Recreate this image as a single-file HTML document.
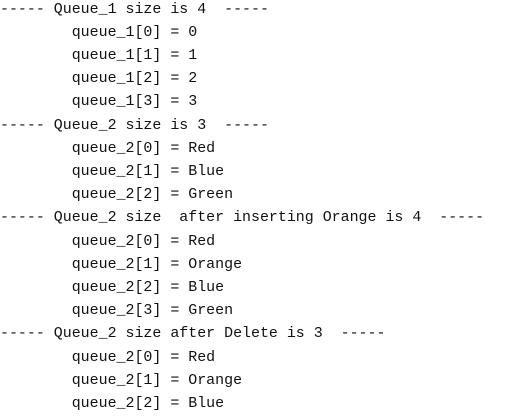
<!DOCTYPE html>
<html><head><style>
html,body{margin:0;padding:0;background:#fff;width:517px;height:417px;overflow:hidden}
pre{margin:0;position:absolute;left:0;top:-1.5px;font-family:"Liberation Mono",monospace;font-size:14.95px;line-height:23.2px;color:#111}
</style></head><body><pre>----- Queue_1 size is 4  -----
        queue_1[0] = 0
        queue_1[1] = 1
        queue_1[2] = 2
        queue_1[3] = 3
----- Queue_2 size is 3  -----
        queue_2[0] = Red
        queue_2[1] = Blue
        queue_2[2] = Green
----- Queue_2 size  after inserting Orange is 4  -----
        queue_2[0] = Red
        queue_2[1] = Orange
        queue_2[2] = Blue
        queue_2[3] = Green
----- Queue_2 size after Delete is 3  -----
        queue_2[0] = Red
        queue_2[1] = Orange
        queue_2[2] = Blue</pre></body></html>
